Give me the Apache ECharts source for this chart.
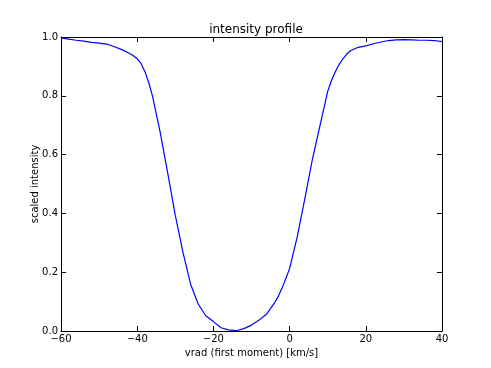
<!DOCTYPE html>
<html>
<head>
<meta charset="utf-8">
<script src="https://cdn.jsdelivr.net/npm/echarts@6/dist/echarts.min.js"></script>
<style>
  html, body { margin: 0; padding: 0; background: #fff; }
  #chart { width: 491px; height: 368px; }
</style>
</head>
<body>
<div id="chart"></div>
<script>
// velocity grid (km/s) and scaled intensity
var vrad = [-60, -58, -56, -54, -52, -50, -48, -46, -44, -42, -41, -40, -39, -38, -37, -36, -34,
  -32, -30, -28, -26, -24, -22, -20, -18, -16, -14, -12, -10, -8, -6, -4, -3, -2, 0, 2, 4, 6,
  8, 10, 11, 12, 13, 14, 15, 16, 18, 20, 22, 24, 26, 28, 30, 32, 34, 36, 38, 40];
var intensity = [0.997, 0.993, 0.989, 0.986, 0.982, 0.979, 0.976, 0.967, 0.957, 0.944, 0.936,
  0.926, 0.910, 0.883, 0.846, 0.800, 0.678, 0.538, 0.393, 0.268, 0.160, 0.092, 0.052, 0.032,
  0.011, 0.004, 0.001, 0.008, 0.020, 0.037, 0.058, 0.095, 0.117, 0.145, 0.212, 0.320, 0.450,
  0.585, 0.700, 0.815, 0.852, 0.882, 0.907, 0.926, 0.942, 0.953, 0.965, 0.970, 0.977, 0.983,
  0.988, 0.990, 0.991, 0.990, 0.989, 0.989, 0.988, 0.984];

var titleText = 'intensity profile';
var xName = 'vrad (first moment) [km/s]';
var yName = 'scaled intensity';

var font = 'DejaVu Sans';
var chart = echarts.init(document.getElementById('chart'));

function minus(v) {
  return String(v).replace('-', '\u2212');
}

var points = vrad.map(function (v, i) { return [v, intensity[i]]; });

var frameLine = { show: true, onZero: false, lineStyle: { color: '#000', width: 1 } };
var tick = { show: true, inside: true, length: 5, lineStyle: { color: '#000' } };

chart.setOption({
  animation: false,
  title: {
    text: titleText,
    left: 251,
    top: 19,
    textAlign: 'center',
    textStyle: { fontFamily: font, fontSize: 12, fontWeight: 'normal', color: '#000' }
  },
  grid: { left: 61, right: 49, top: 37, bottom: 37 },
  xAxis: [{
    type: 'value',
    min: -60, max: 40, interval: 20,
    name: xName,
    nameLocation: 'middle',
    nameGap: 15,
    nameTextStyle: { fontFamily: font, fontSize: 10, color: '#000' },
    axisLine: frameLine,
    axisTick: tick,
    splitLine: { show: false },
    axisLabel: { fontFamily: font, fontSize: 10, color: '#000', margin: 3, formatter: minus }
  }, {
    type: 'value', position: 'top',
    min: -60, max: 40, interval: 20,
    axisLine: frameLine,
    axisTick: tick,
    splitLine: { show: false },
    axisLabel: { show: false }
  }],
  yAxis: [{
    type: 'value',
    min: 0, max: 1, interval: 0.2,
    name: yName,
    nameLocation: 'middle',
    nameGap: 21,
    nameMoveOverlap: false,
    nameTextStyle: { fontFamily: font, fontSize: 10, color: '#000' },
    axisLine: frameLine,
    axisTick: tick,
    splitLine: { show: false },
    axisLabel: {
      fontFamily: font, fontSize: 10, color: '#000', margin: 3,
      formatter: function (v) { return v.toFixed(1); }
    }
  }, {
    type: 'value', position: 'right',
    min: 0, max: 1, interval: 0.2,
    axisLine: frameLine,
    axisTick: tick,
    splitLine: { show: false },
    axisLabel: { show: false }
  }],
  series: [{
    type: 'line',
    data: points,
    showSymbol: false,
    lineStyle: { color: '#0000ff', width: 1.2 },
    clip: true
  }]
});
</script>
</body>
</html>
